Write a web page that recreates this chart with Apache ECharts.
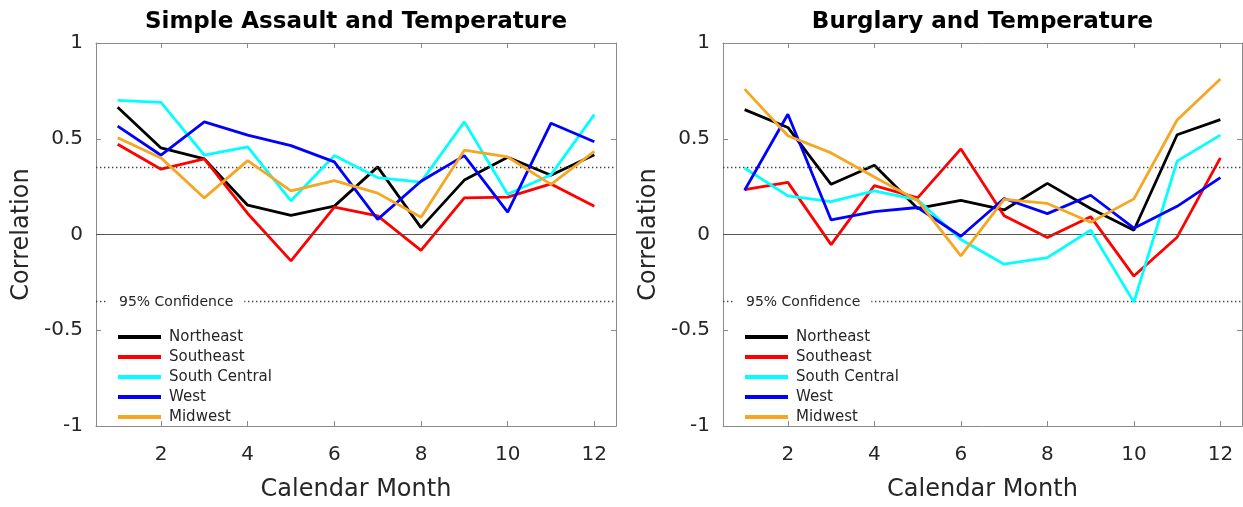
<!DOCTYPE html>
<html>
<head>
<meta charset="utf-8">
<script src="https://cdn.jsdelivr.net/npm/echarts@6/dist/echarts.min.js"></script>
<style>
html,body{margin:0;padding:0;background:#fff;}
#chart{width:1243px;height:507px;}
</style>
</head>
<body>
<div id="chart"></div>
<script>
// ---- data ----
const months = [1, 2, 3, 4, 5, 6, 7, 8, 9, 10, 11, 12];
const xTicks = [2, 4, 6, 8, 10, 12];
const yTicks = [-1, -0.5, 0, 0.5, 1];
const regions = ['Northeast', 'Southeast', 'South Central', 'West', 'Midwest'];
const titles = ['Simple Assault and Temperature', 'Burglary and Temperature'];
const confidence = 0.35;

// Simple Assault and Temperature
const assaultNortheast    = [0.664, 0.452, 0.395, 0.153, 0.100, 0.148, 0.353, 0.036, 0.284, 0.403, 0.309, 0.417];
const assaultSoutheast    = [0.471, 0.341, 0.395, 0.110, -0.138, 0.143, 0.097, -0.083, 0.191, 0.195, 0.264, 0.147];
const assaultSouthCentral = [0.700, 0.690, 0.415, 0.457, 0.176, 0.412, 0.297, 0.274, 0.588, 0.210, 0.312, 0.626];
const assaultWest         = [0.566, 0.414, 0.588, 0.519, 0.464, 0.379, 0.079, 0.278, 0.412, 0.117, 0.581, 0.484];
const assaultMidwest      = [0.505, 0.400, 0.191, 0.386, 0.228, 0.281, 0.216, 0.090, 0.440, 0.405, 0.262, 0.434];

// Burglary and Temperature
const burglaryNortheast    = [0.652, 0.559, 0.262, 0.362, 0.136, 0.178, 0.128, 0.267, 0.136, 0.022, 0.521, 0.600];
const burglarySoutheast    = [0.234, 0.272, -0.053, 0.255, 0.191, 0.447, 0.098, -0.016, 0.093, -0.217, -0.014, 0.400];
const burglarySouthCentral = [0.347, 0.202, 0.172, 0.228, 0.181, -0.026, -0.155, -0.121, 0.022, -0.353, 0.383, 0.519];
const burglaryWest         = [0.231, 0.628, 0.076, 0.119, 0.141, -0.009, 0.188, 0.109, 0.205, 0.033, 0.147, 0.297];
const burglaryMidwest      = [0.759, 0.516, 0.426, 0.300, 0.178, -0.112, 0.183, 0.162, 0.064, 0.186, 0.598, 0.812];

const panels = [
  [assaultNortheast, assaultSoutheast, assaultSouthCentral, assaultWest, assaultMidwest],
  [burglaryNortheast, burglarySoutheast, burglarySouthCentral, burglaryWest, burglaryMidwest]
];

// ---- styles ----
const colors = ['#000000', '#ff0000', '#00ffff', '#0000ff', '#f5a623'];
const FONT = '"DejaVu Sans", "Liberation Sans", Arial, sans-serif';
const TXT = '#262626';
const BOX = '#8a8a8a';
const gridsLayout = [
  {left: 96, top: 43, width: 520, height: 388},
  {left: 723, top: 43, width: 519, height: 388}
];

const chart = echarts.init(document.getElementById('chart'), null, {renderer: 'canvas'});

const grid = [], xAxis = [], yAxis = [], series = [], title = [], legend = [];
gridsLayout.forEach((g, i) => {
  grid.push(Object.assign({containLabel: false}, g));
  title.push({
    text: titles[i],
    left: g.left + g.width / 2,
    textAlign: 'center',
    top: 11,
    padding: 0,
    textStyle: {fontFamily: FONT, fontWeight: 'bold', fontSize: 23, color: '#000'}
  });
  const tickCommon = {show: true, inside: true, length: 5, customValues: xTicks, lineStyle: {color: BOX, width: 1}};
  xAxis.push({
    gridIndex: i, type: 'value', min: 0.5, max: 12.5, position: 'bottom',
    name: 'Calendar Month', nameLocation: 'middle', nameGap: 52,
    nameTextStyle: {fontFamily: FONT, fontSize: 24, color: TXT},
    axisLine: {show: true, onZero: false, lineStyle: {color: BOX, width: 1}},
    axisTick: tickCommon,
    axisLabel: {show: true, customValues: xTicks, margin: 19, fontFamily: FONT, fontSize: 20, color: TXT},
    splitLine: {show: false}
  });
  xAxis.push({
    gridIndex: i, type: 'value', min: 0.5, max: 12.5, position: 'top',
    axisLine: {show: true, onZero: false, lineStyle: {color: BOX, width: 1}},
    axisTick: tickCommon,
    axisLabel: {show: false},
    splitLine: {show: false}
  });
  yAxis.push({
    gridIndex: i, type: 'value', min: -1, max: 1, interval: 0.5, position: 'left',
    name: 'Correlation', nameLocation: 'middle', nameGap: 62,
    nameTextStyle: {fontFamily: FONT, fontSize: 24, color: TXT},
    axisLine: {show: true, onZero: false, lineStyle: {color: BOX, width: 1}},
    axisTick: {show: true, inside: true, length: 5, lineStyle: {color: BOX, width: 1}},
    axisLabel: {show: true, margin: 13, fontFamily: FONT, fontSize: 20, color: TXT,
      formatter: v => yTicks.indexOf(v) >= 0 ? String(v) : ''},
    splitLine: {show: false}
  });
  yAxis.push({
    gridIndex: i, type: 'value', min: -1, max: 1, interval: 0.5, position: 'right',
    axisLine: {show: true, onZero: false, lineStyle: {color: BOX, width: 1}},
    axisTick: {show: true, inside: true, length: 5, lineStyle: {color: BOX, width: 1}},
    axisLabel: {show: false},
    splitLine: {show: false}
  });
  panels[i].forEach((vals, k) => {
    const s = {
      name: regions[k], type: 'line',
      xAxisIndex: i * 2, yAxisIndex: i * 2,
      data: months.map((m, j) => [m, vals[j]]),
      showSymbol: false, symbol: 'none',
      lineStyle: {color: colors[k], width: 2.8},
      itemStyle: {color: colors[k]},
      z: 3 + k,
      silent: true
    };
    if (k === 0) {
      s.markLine = {
        silent: true, symbol: 'none', label: {show: false}, animation: false,
        data: [
          {yAxis: 0, lineStyle: {color: '#555', width: 1, type: 'solid'}},
          {yAxis: confidence, lineStyle: {color: '#444', width: 1.4, type: [1.4, 2.6]}},
          {yAxis: -confidence, lineStyle: {color: '#444', width: 1.4, type: [1.4, 2.6]}}
        ]
      };
    }
    series.push(s);
  });
  legend.push({
    orient: 'vertical', left: g.left + 17, top: 324,
    data: regions, icon: 'rect', itemWidth: 43, itemHeight: 4, itemGap: 4,
    selectedMode: false,
    textStyle: {fontFamily: FONT, fontSize: 15, lineHeight: 16, color: TXT, padding: [0, 0, 0, 3]}
  });
});

chart.setOption({
  animation: false,
  backgroundColor: '#fff',
  title, grid, xAxis, yAxis, series, legend
});

// "95% Confidence" label sitting on the lower confidence line
const graphic = gridsLayout.map((g, i) => {
  const p = chart.convertToPixel({gridIndex: i}, [0.5, -confidence]);
  return {
    type: 'text', x: p[0] + 12, y: p[1] + 1, z: 100, silent: true,
    style: {
      text: '95% Confidence', font: '14px ' + FONT, fill: TXT,
      verticalAlign: 'middle', backgroundColor: '#fff', padding: [2, 11, 2, 11]
    }
  };
});
chart.setOption({graphic});
</script>
</body>
</html>
